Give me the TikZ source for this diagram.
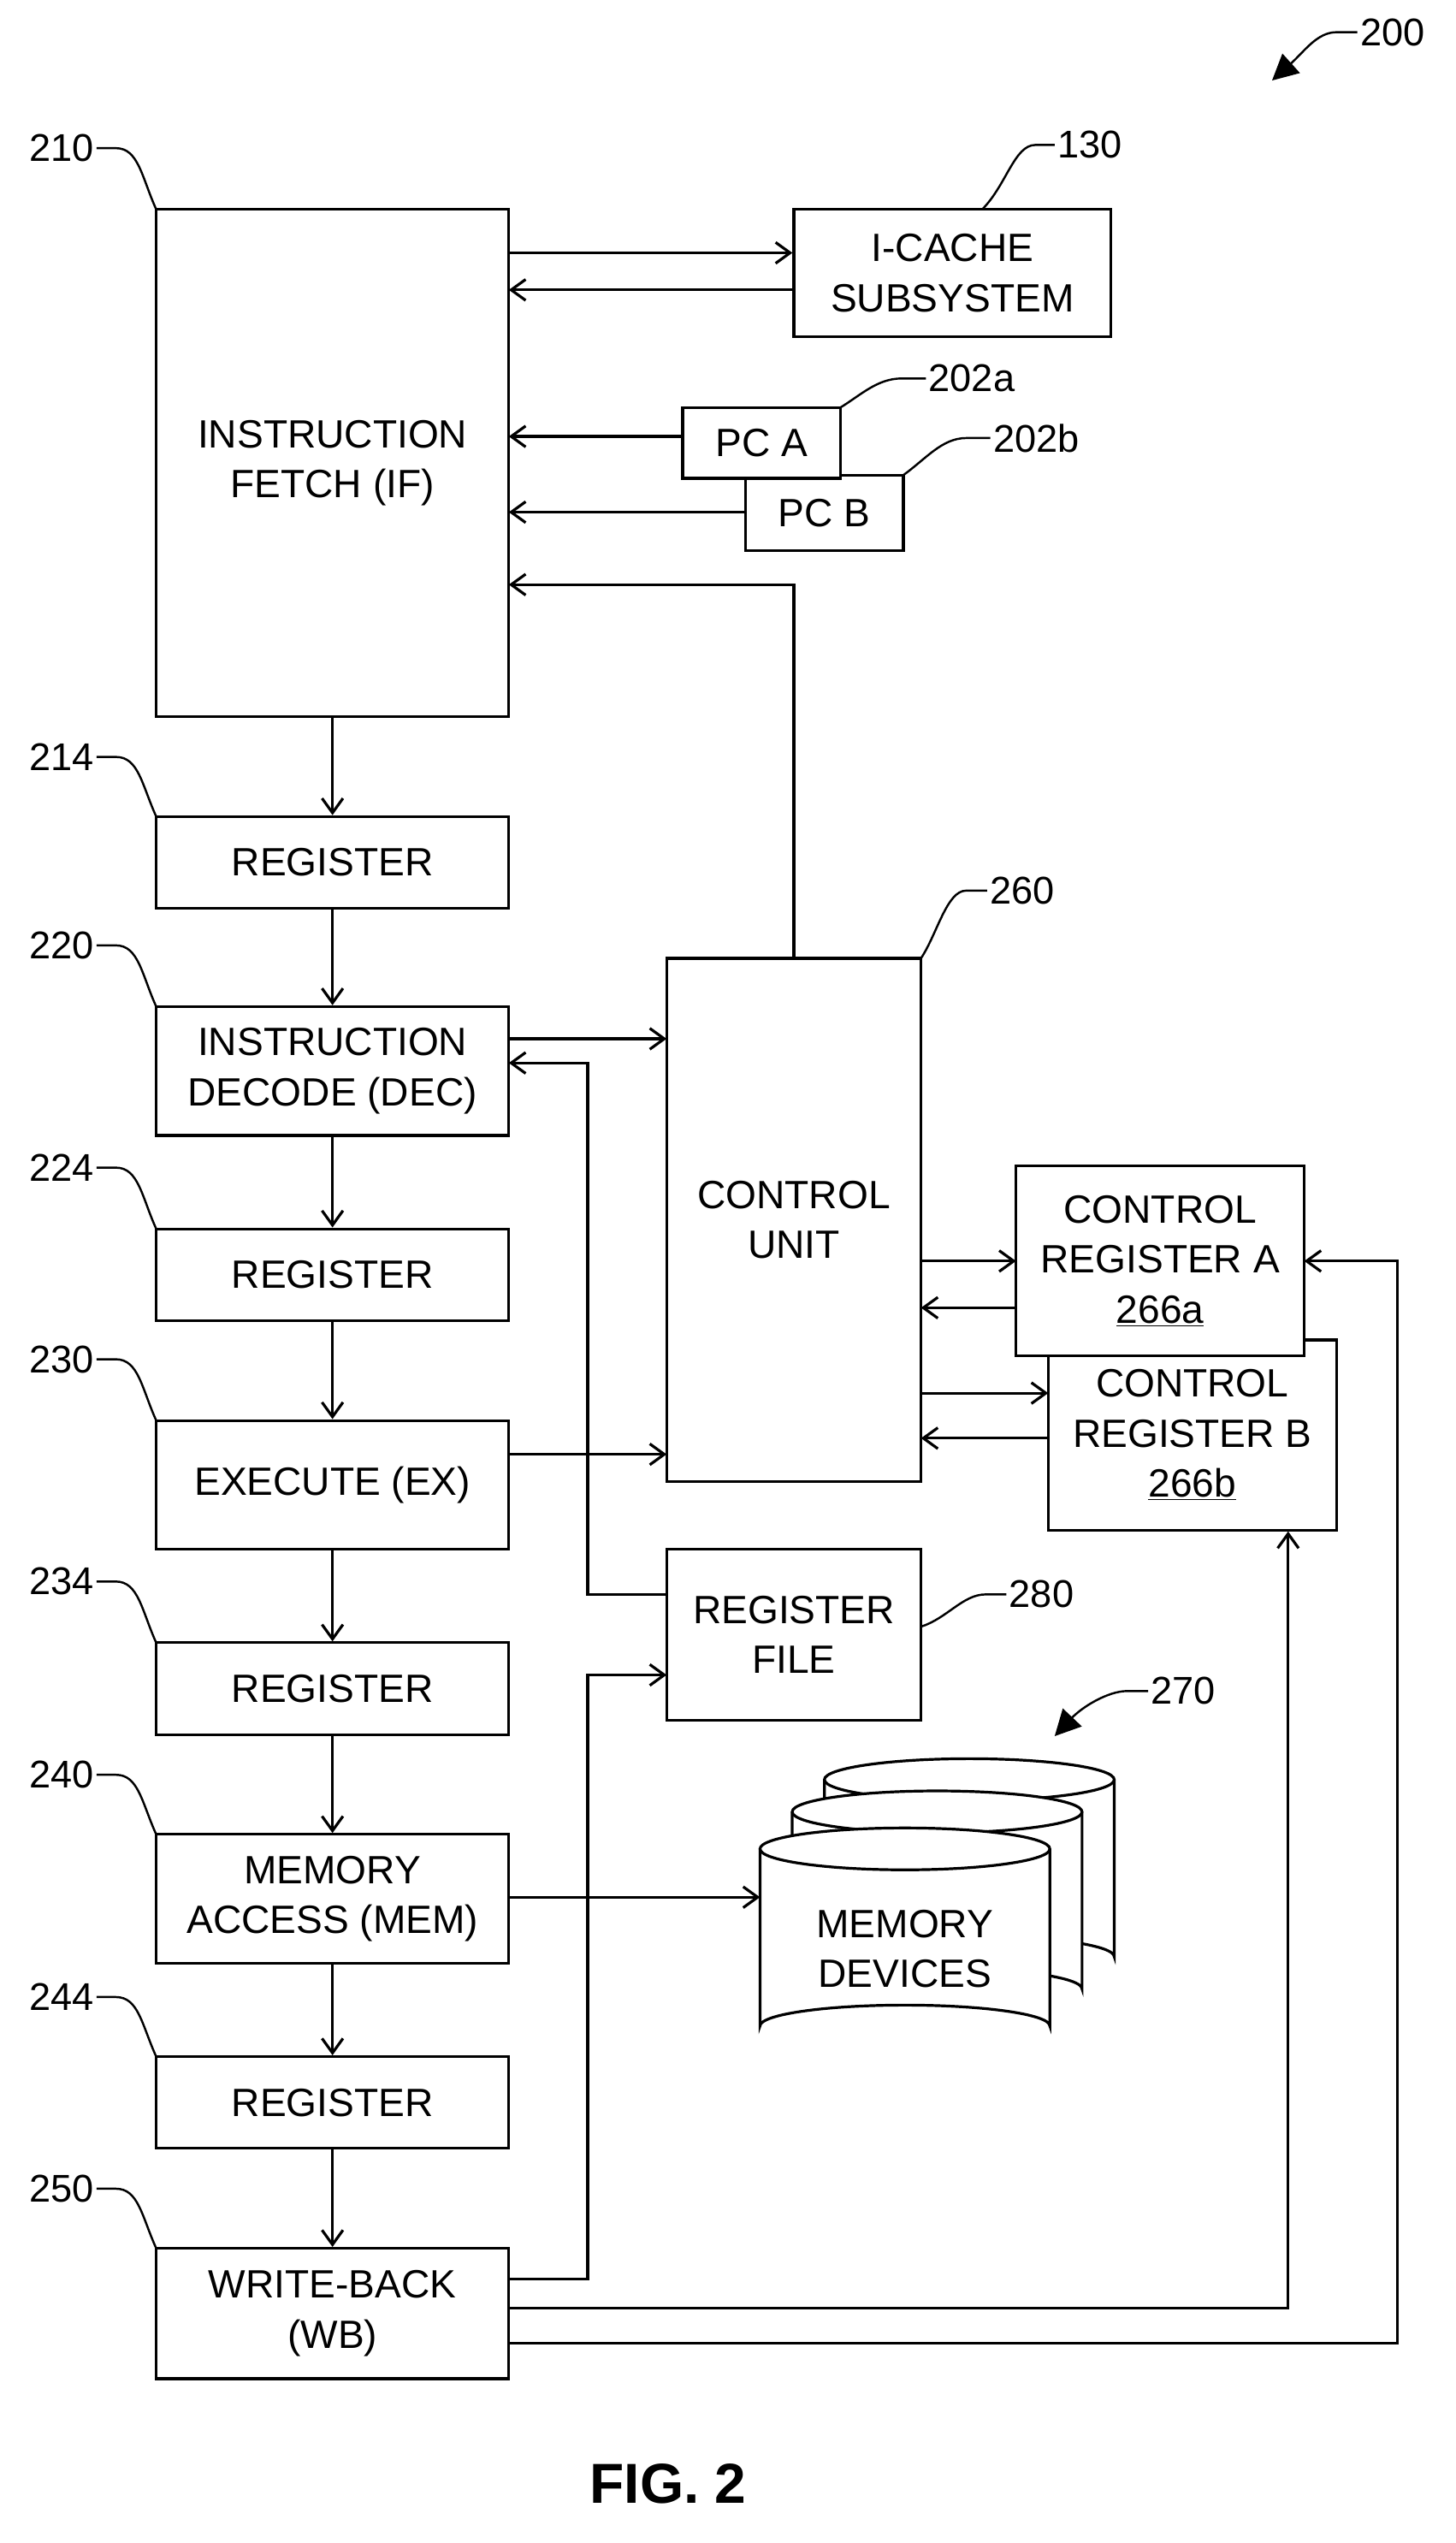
\documentclass[tikz,border=0pt]{standalone}
\usepackage{fontspec}
\setmainfont{Liberation Sans}
\usetikzlibrary{arrows.meta,shapes.geometric}
\begin{document}
\begin{tikzpicture}[x=1pt,y=-1pt,line width=1.7pt,
  box/.style={draw,fill=white,align=center,font=\fontsize{24.5}{31}\selectfont},
  lbl/.style={font=\fontsize{24}{28}\selectfont,inner sep=1pt},
  arr/.style={-{Straight Barb[length=9pt,width=13pt,line width=1.7pt]}},
  farr/.style={-{Triangle[length=16pt,width=16pt]}}]
\useasboundingbox[fill=white] (0,0) rectangle (904,1579);
% main pipeline boxes
\node[box,minimum width=219pt,minimum height=315pt] (if) at (206.5,287.5) {INSTRUCTION\\FETCH (IF)};
\node[box,minimum width=219pt,minimum height=57pt] (r214) at (206.5,535.5) {REGISTER};
\node[box,minimum width=219pt,minimum height=80pt] (dec) at (206.5,665) {INSTRUCTION\\DECODE (DEC)};
\node[box,minimum width=219pt,minimum height=57pt] (r224) at (206.5,791.5) {REGISTER};
\node[box,minimum width=219pt,minimum height=80pt] (ex) at (206.5,922) {EXECUTE (EX)};
\node[box,minimum width=219pt,minimum height=57pt] (r234) at (206.5,1048.5) {REGISTER};
\node[box,minimum width=219pt,minimum height=80pt] (mem) at (206.5,1179) {MEMORY\\ACCESS (MEM)};
\node[box,minimum width=219pt,minimum height=57pt] (r244) at (206.5,1305.5) {REGISTER};
\node[box,minimum width=219pt,minimum height=81pt] (wb) at (206.5,1436.5) {WRITE-BACK\\(WB)};
% others
\node[box,minimum width=197pt,minimum height=79pt] (ic) at (591.5,169.5) {I-CACHE\\SUBSYSTEM};
\node[box,minimum width=98pt,minimum height=47pt] (pcb) at (512,318.5) {PC B};
\node[box,minimum width=98pt,minimum height=44pt] (pca) at (473,275) {PC A};
\node[box,minimum width=158pt,minimum height=325pt] (cu) at (493,757.5) {CONTROL\\UNIT};
\node[box,minimum width=158pt,minimum height=106pt] (rf) at (493,1015) {REGISTER\\FILE};
\node[box,minimum width=179pt,minimum height=118pt] (crb) at (740.5,891) {CONTROL\\REGISTER B\\\underline{266b}};
\node[box,minimum width=179pt,minimum height=118pt] (cra) at (720.5,783) {CONTROL\\REGISTER A\\\underline{266a}};
% memory devices cylinders
\foreach \dx/\dy/\n in {40/-43/c3,20/-23/c2,0/0/c1}{
  \begin{scope}[shift={(\dx,\dy)}]
  \fill[white] (472,1148) -- (472,1258) arc[start angle=180,end angle=360,x radius=90,y radius=13] -- (652,1148) -- cycle;
  \draw[fill=white] (562,1148) ellipse[x radius=90,y radius=13];
  \draw (472,1148) -- (472,1258) arc[start angle=180,end angle=360,x radius=90,y radius=13] -- (652,1148);
  \coordinate (\n) at (472,1178);
  \end{scope}}
\node[lbl,align=center,font=\fontsize{24.5}{31}\selectfont] (md) at (562,1210) {MEMORY\\DEVICES};
% pipeline arrows
\draw[arr] (if.south) -- (r214.north);
\draw[arr] (r214.south) -- (dec.north);
\draw[arr] (dec.south) -- (r224.north);
\draw[arr] (r224.south) -- (ex.north);
\draw[arr] (ex.south) -- (r234.north);
\draw[arr] (r234.south) -- (mem.north);
\draw[arr] (mem.south) -- (r244.north);
\draw[arr] (r244.south) -- (wb.north);
% IF connections
\draw[arr] (316,157) -- (ic.west |- 0,157);
\draw[arr] (ic.west |- 0,180) -- (316,180);
\draw[arr] (pca.west |- 0,271) -- (316,271);
\draw[arr] (pcb.west |- 0,318) -- (316,318);
\draw[arr] (cu.north) -- (493,363) -- (316,363);
% DEC/EX to CU
\draw[arr] (316,645) -- (414,645);
\draw[arr] (316,903) -- (414,903);
\draw[arr] (rf.west |- 0,990) -- (365,990) -- (365,660) -- (316,660);
% CU <-> CR
\draw[arr] (572,783) -- (631,783);
\draw[arr] (631,812) -- (572,812);
\draw[arr] (572,865) -- (651,865);
\draw[arr] (651,893) -- (572,893);
% MEM to devices
\draw[arr] (316,1178) -- (c1);
% WB outputs
\draw[arr] (316,1415) -- (365,1415) -- (365,1040) -- (414,1040);
\draw[arr] (316,1433) -- (800,1433) -- (crb.south -| 800,0);
\draw[arr] (316,1455) -- (868,1455) -- (868,783) -- (810,783);
% reference labels
\foreach \y/\t/\by in {92/210/130,470/214/507,587/220/625,725/224/763,844/230/882,982/234/1020,1102/240/1139,1240/244/1277,1359/250/1396}{
  \node[lbl,anchor=east] (L\t) at (60,\y) {\t};
  \draw[line width=1.3pt] (L\t.east) -- (72,\y) .. controls (86,\y) and (88,\by-20) .. (97,\by);
}
\node[lbl,anchor=west] (L130) at (655,90) {130};
\draw[line width=1.3pt] (L130.west) -- (643,90) .. controls (630,90) and (625,115) .. (610,130);
\node[lbl,anchor=west] (L202a) at (575,235) {202a};
\draw[line width=1.3pt] (L202a.west) -- (560,235) .. controls (545,235) and (535,245) .. (522,253);
\node[lbl,anchor=west] (L202b) at (615,272) {202b};
\draw[line width=1.3pt] (L202b.west) -- (600,272) .. controls (585,272) and (575,285) .. (561,295);
\node[lbl,anchor=west] (L260) at (613,553) {260};
\draw[line width=1.3pt] (L260.west) -- (600,553) .. controls (588,553) and (582,580) .. (572,595);
\node[lbl,anchor=west] (L280) at (625,990) {280};
\draw[line width=1.3pt] (L280.west) -- (612,990) .. controls (598,990) and (588,1005) .. (572,1010);
\node[lbl,anchor=west] (L270) at (713,1050) {270};
\draw[farr,line width=1.3pt] (L270.west) -- (700,1050) .. controls (688,1050) and (672,1060) .. (655,1078);
\node[lbl,anchor=west] (L200) at (843,20) {200};
\draw[farr,line width=1.3pt] (L200.west) -- (830,20) .. controls (818,20) and (810,32) .. (790,50);
\node[font=\bfseries\fontsize{35}{40}\selectfont] (fig) at (415,1542) {FIG. 2};
\end{tikzpicture}
\end{document}
